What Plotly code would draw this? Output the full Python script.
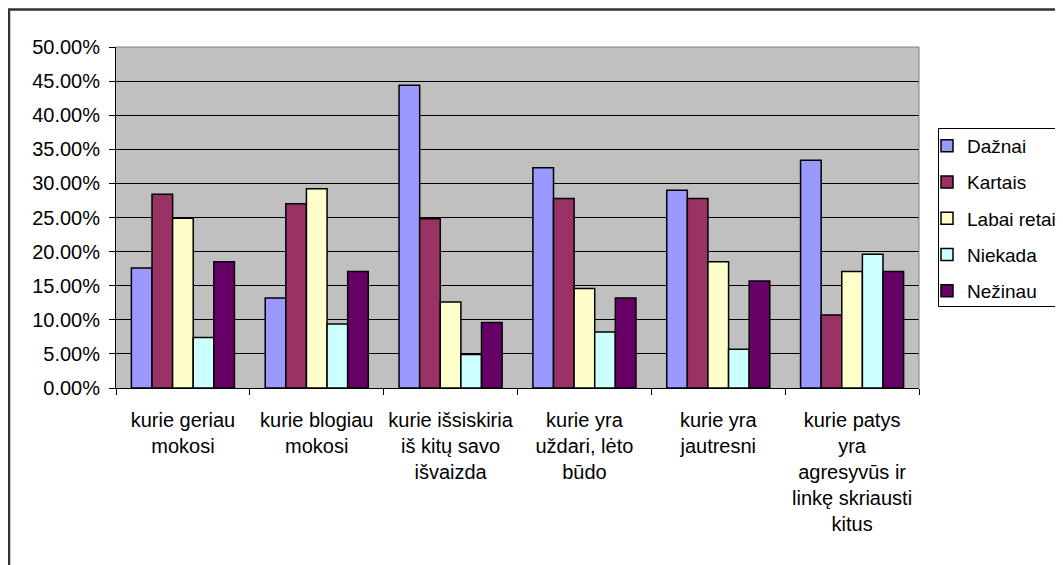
import plotly.graph_objects as go

categories = [
    "kurie geriau<br>mokosi",
    "kurie blogiau<br>mokosi",
    "kurie išsiskiria<br>iš kitų savo<br>išvaizda",
    "kurie yra<br>uždari, lėto<br>būdo",
    "kurie yra<br>jautresni",
    "kurie patys<br>yra<br>agresyvūs ir<br>linkę skriausti<br>kitus",
]

series_names = ["Dažnai", "Kartais", "Labai retai", "Niekada", "Nežinau"]

dazniai = [0.176, 0.132, 0.444, 0.323, 0.290, 0.334]
kartais = [0.284, 0.270, 0.248, 0.278, 0.278, 0.107]
labai_retai = [0.249, 0.292, 0.126, 0.146, 0.185, 0.171]
niekada = [0.074, 0.094, 0.049, 0.082, 0.057, 0.196]
nezinau = [0.185, 0.171, 0.096, 0.132, 0.157, 0.171]

series_values = [dazniai, kartais, labai_retai, niekada, nezinau]
colors = ["#9999FF", "#993366", "#FFFFCC", "#CCFFFF", "#660066"]

FONT = "Liberation Sans, Arial, sans-serif"

fig = go.Figure()
for i, (name, vals, col) in enumerate(zip(series_names, series_values, colors)):
    fig.add_trace(go.Bar(
        x=categories, y=vals, name=name,
        marker=dict(color=col, line=dict(color="black", width=1.5)),
        legendgroup=f"g{i}",
    ))

# page has an 8px body margin; work in screen coordinates and shift
OFF = 8
W, H = 1063 - OFF, 565 - OFF
L, R, T, B = 116 - OFF, 919 - OFF, 47 - OFF, 388 - OFF
pw, ph = R - L, B - T


def px(x):
    return (x - OFF - L) / pw


def py(y):
    return (B - (y - OFF)) / ph


fig.update_layout(
    width=W, height=H,
    margin=dict(l=L, r=W - R, t=T, b=H - B, pad=0, autoexpand=False),
    paper_bgcolor="white",
    plot_bgcolor="#C0C0C0",
    barmode="group",
    bargap=0.23,
    bargroupgap=0,
    font=dict(family=FONT, size=19, color="black"),
    showlegend=True,
    legend=dict(
        xref="container", yref="container",
        x=(927 - OFF) / W, y=1 - (127 - OFF) / H,
        xanchor="left", yanchor="top",
        bgcolor="rgba(0,0,0,0)", borderwidth=0,
        font=dict(family=FONT, size=19, color="black"),
        traceorder="grouped", tracegroupgap=8.5,
    ),
    xaxis=dict(
        showline=True, linecolor="black", linewidth=1,
        ticks="outside", ticklen=6, tickcolor="black",
        tickson="boundaries",
        tickangle=0,
        showgrid=False,
        ticklabelstandoff=14,
        tickfont=dict(family=FONT, size=20, color="black"),
    ),
    yaxis=dict(
        range=[0, 0.5], dtick=0.05, tickformat=".2%",
        showline=True, linecolor="black", linewidth=1,
        ticks="outside", ticklen=6, tickcolor="black",
        showgrid=True, gridcolor="black", gridwidth=1,
        zeroline=False,
        ticklabelstandoff=5,
        tickfont=dict(family=FONT, size=20, color="black"),
    ),
    shapes=[
        dict(type="line", xref="paper", yref="paper", x0=0, x1=1, y0=1, y1=1,
             line=dict(color="#808080", width=1)),
        dict(type="line", xref="paper", yref="paper", x0=1, x1=1, y0=0, y1=1,
             line=dict(color="#808080", width=1)),
        # legend box
        dict(type="rect", xref="paper", yref="paper",
             x0=px(938.5), x1=px(1075), y0=py(128.5), y1=py(306.5),
             line=dict(color="black", width=1), fillcolor="white", layer="below"),
        # outer chart border
        dict(type="rect", xref="paper", yref="paper",
             x0=px(9), x1=px(1075), y0=py(9.5), y1=py(580),
             line=dict(color="#333333", width=2.5)),
    ],
)

fig.write_html("out.html")
